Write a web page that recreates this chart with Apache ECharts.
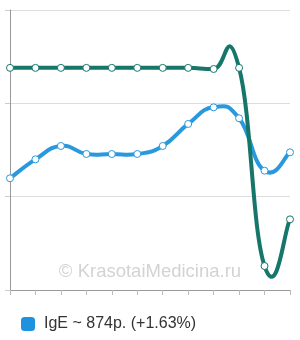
<!DOCTYPE html>
<html><head><meta charset="utf-8">
<script src="https://cdn.jsdelivr.net/npm/echarts@6/dist/echarts.min.js"></script>
<style>html,body{margin:0;padding:0;background:#fff}#c{width:300px;height:340px}</style>
</head><body><div id="c"></div>
<script>
const categories = ['1','2','3','4','5','6','7','8','9','10','11','12'];
const seriesBlue = [119.7, 140, 154.3, 145.7, 145.7, 145.7, 154.3, 177.9, 195.7, 184, 127.8, 147.5];
const seriesDark = [238, 238, 238, 238, 238, 238, 238, 238, 236.8, 238, 25.7, 75.7];
const yTicks = [0, 100, 200, 300];
const legendLabel = 'IgE ~ 874р. (+1.63%)';
const watermark = '© KrasotaiMedicina.ru';

const BLUE = '#2a98dc';
const DARK = '#17766a';
const TENSION = 0.25;

function curveSeries(values, color) {
  return {
    type: 'custom', silent: true,
    data: values.map((v, k) => [k, v]),
    encode: {x: 0, y: 1},
    renderItem: function (params, api) {
      const i = params.dataIndex;
      if (i >= values.length - 1) return null;
      const P = (k) => {
        k = Math.max(0, Math.min(values.length - 1, k));
        return api.coord([k, values[k]]);
      };
      const p0 = P(i - 1), p1 = P(i), p2 = P(i + 1), p3 = P(i + 2);
      const c1 = [p1[0] + TENSION * (p2[0] - p0[0]), p1[1] + TENSION * (p2[1] - p0[1])];
      const c2 = [p2[0] - TENSION * (p3[0] - p1[0]), p2[1] - TENSION * (p3[1] - p1[1])];
      return {
        type: 'path',
        shape: {pathData: 'M' + p1[0] + ' ' + p1[1] + ' C' + c1[0] + ' ' + c1[1] + ' ' + c2[0] + ' ' + c2[1] + ' ' + p2[0] + ' ' + p2[1]},
        style: {stroke: color, lineWidth: 4, fill: null, lineCap: 'round'}
      };
    }
  };
}

function markerSeries(name, values, color) {
  return {
    name: name, type: 'line', data: values, silent: true,
    symbol: 'circle', symbolSize: 7, showSymbol: true,
    lineStyle: {width: 0, opacity: 0},
    itemStyle: {color: '#fff', borderColor: color, borderWidth: 1}
  };
}

const chart = echarts.init(document.getElementById('c'), null, {renderer: 'canvas'});
chart.setOption({
  animation: false,
  grid: {left: 10, right: 10, top: 10, bottom: 50, containLabel: false},
  xAxis: {
    type: 'category', data: categories, boundaryGap: false,
    axisLine: {lineStyle: {color: '#999'}},
    axisTick: {show: true, length: 5, lineStyle: {color: '#bbb'}},
    axisLabel: {show: false}
  },
  yAxis: {
    type: 'value', min: yTicks[0], max: yTicks[yTicks.length - 1], interval: 100,
    axisLine: {show: true, lineStyle: {color: '#999'}},
    axisTick: {show: true, length: 5, lineStyle: {color: '#ccc'}},
    axisLabel: {show: false},
    splitLine: {lineStyle: {color: '#ddd'}}
  },
  legend: {
    left: 16, top: 311, icon: 'roundRect', itemWidth: 14, itemHeight: 14,
    data: [{name: legendLabel, itemStyle: {color: '#1f92df', borderWidth: 0}}],
    textStyle: {fontFamily: 'Liberation Sans, Arial', fontSize: 16, color: '#333', padding: [0, 0, 0, 4]}
  },
  graphic: [{
    type: 'text', left: 'center', top: 262,
    style: {text: watermark, fontFamily: 'Liberation Sans, Arial', fontSize: 18.5, fill: 'rgba(200,200,200,0.8)'}
  }],
  series: [
    curveSeries(seriesBlue, BLUE),
    markerSeries(legendLabel, seriesBlue, BLUE),
    curveSeries(seriesDark, DARK),
    markerSeries('dark', seriesDark, DARK)
  ]
});
</script></body></html>
